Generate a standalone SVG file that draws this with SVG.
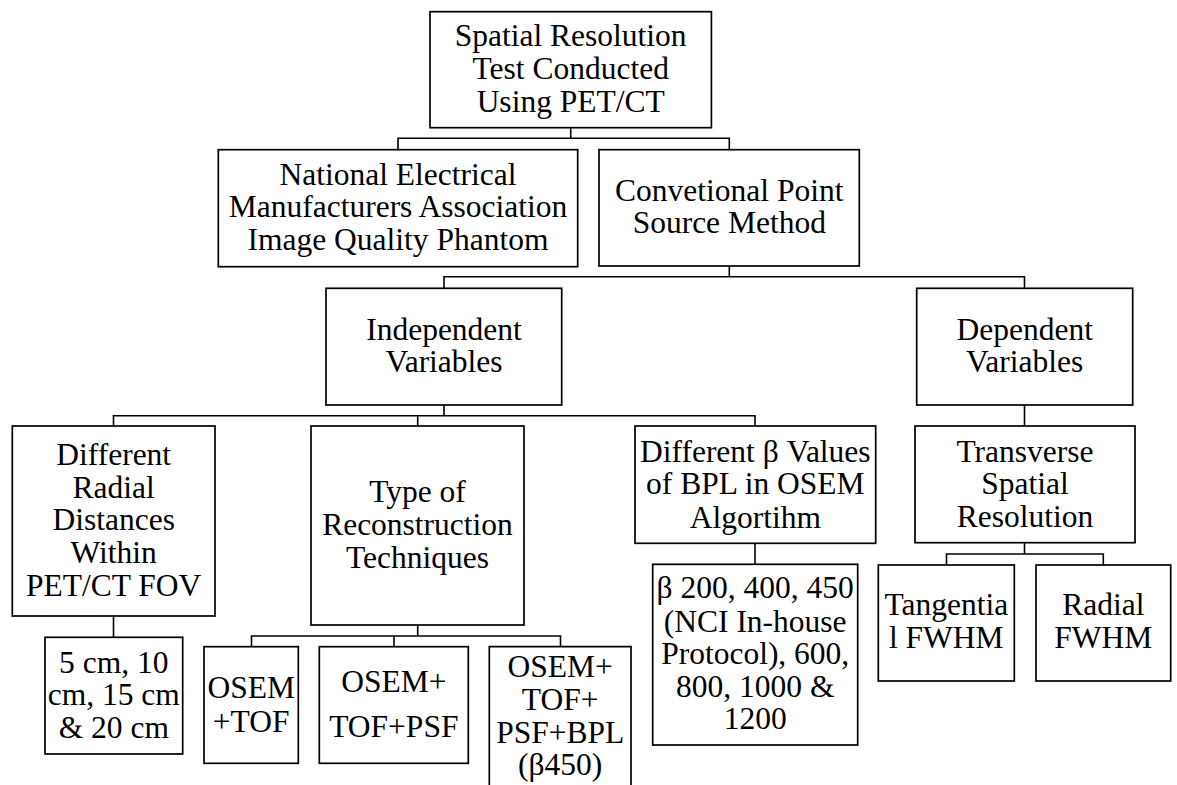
<svg xmlns="http://www.w3.org/2000/svg" width="1177" height="785" viewBox="0 0 1177 785">
<style>
.box{fill:#fff;stroke:#000;stroke-width:1.7}
.ln{fill:none;stroke:#000;stroke-width:1.6}
text{font-family:"Liberation Serif","Times New Roman",serif;font-size:31.5px;fill:#000;text-anchor:middle}
</style>
<rect width="1177" height="785" fill="#fff"/>
<g id="connectors">
<path class="ln" d="M570.7,127.7V138.3M398,149.7V138.3H729.3V149.7"/>
<path class="ln" d="M729.3,266V276.7M444,288.3V276.7H1024.5V288.3"/>
<path class="ln" d="M444,405V415.7M113.5,426V415.7H755V426M417.7,415.7V426"/>
<path class="ln" d="M113.5,616V637.3"/>
<path class="ln" d="M417.7,625V636M251.5,646.7V636H560.5V646.7M394,636V646.7"/>
<path class="ln" d="M755,543.3V564.3"/>
<path class="ln" d="M1024.5,405V426"/>
<path class="ln" d="M1024.5,542.7V554M946.5,565V554H1103.3V565"/>
</g>
<g id="root">
<rect class="box" x="430" y="11.7" width="281.4" height="116"/>
<text x="570.7" y="45.7">Spatial Resolution</text>
<text x="570.7" y="79">Test Conducted</text>
<text x="570.7" y="111.7">Using PET/CT</text>
</g>
<g id="nema">
<rect class="box" x="218.3" y="149.7" width="359.4" height="117"/>
<text x="398" y="185">National Electrical</text>
<text x="398" y="217.3">Manufacturers Association</text>
<text x="398" y="250">Image Quality Phantom</text>
</g>
<g id="conventional">
<rect class="box" x="599" y="149.7" width="260.3" height="116.3"/>
<text x="729.3" y="200.5">Convetional Point</text>
<text x="729.3" y="232.5">Source Method</text>
</g>
<g id="independent">
<rect class="box" x="326" y="288.3" width="235.7" height="116.7"/>
<text x="444" y="340">Independent</text>
<text x="444" y="371.7">Variables</text>
</g>
<g id="dependent">
<rect class="box" x="916.7" y="288.3" width="216" height="116.7"/>
<text x="1024.7" y="339.5">Dependent</text>
<text x="1024.7" y="371.5">Variables</text>
</g>
<g id="radial-distances">
<rect class="box" x="12.3" y="426" width="202.7" height="190"/>
<text x="113.7" y="465">Different</text>
<text x="113.7" y="497.7">Radial</text>
<text x="113.7" y="530">Distances</text>
<text x="113.7" y="563.3">Within</text>
<text x="113.7" y="596">PET/CT FOV</text>
</g>
<g id="reconstruction">
<rect class="box" x="311" y="426" width="213" height="199"/>
<text x="417.5" y="501.7">Type of</text>
<text x="417.5" y="535">Reconstruction</text>
<text x="417.5" y="567.7">Techniques</text>
</g>
<g id="beta-values">
<rect class="box" x="635" y="426" width="240.7" height="117.3"/>
<text x="755.3" y="461.7">Different β Values</text>
<text x="755.3" y="494.3">of BPL in OSEM</text>
<text x="755.3" y="527.5">Algortihm</text>
</g>
<g id="transverse">
<rect class="box" x="915" y="426" width="220" height="116.7"/>
<text x="1025" y="461.7">Transverse</text>
<text x="1025" y="494">Spatial</text>
<text x="1025" y="526.7">Resolution</text>
</g>
<g id="distances-values">
<rect class="box" x="45" y="637.3" width="137.7" height="116.7"/>
<text x="113.8" y="672.7">5 cm, 10</text>
<text x="113.8" y="705">cm, 15 cm</text>
<text x="113.8" y="737.7">&amp; 20 cm</text>
</g>
<g id="osem-tof">
<rect class="box" x="204" y="646.7" width="94.3" height="116.6"/>
<text x="251.2" y="698.3">OSEM</text>
<text x="251.2" y="731.7">+TOF</text>
</g>
<g id="osem-tof-psf">
<rect class="box" x="319.3" y="646.7" width="149" height="116.6"/>
<text x="393.8" y="691.7">OSEM+</text>
<text x="393.8" y="737.3">TOF+PSF</text>
</g>
<g id="osem-tof-psf-bpl">
<path class="box" d="M489.3,786V646.7H631V786"/>
<text x="560.2" y="676.7">OSEM+</text>
<text x="560.2" y="710">TOF+</text>
<text x="560.2" y="743">PSF+BPL</text>
<text x="560.2" y="775">(β450)</text>
</g>
<g id="beta-list">
<rect class="box" x="652.7" y="564.3" width="205" height="180.7"/>
<text x="755.2" y="598.3">β 200, 400, 450</text>
<text x="755.2" y="631.7">(NCI In-house</text>
<text x="755.2" y="664.3">Protocol), 600,</text>
<text x="755.2" y="696.7">800, 1000 &amp;</text>
<text x="755.2" y="729.3">1200</text>
</g>
<g id="tangential">
<rect class="box" x="878.3" y="565" width="136" height="116"/>
<text x="946.3" y="615">Tangentia</text>
<text x="946.3" y="648.3">l FWHM</text>
</g>
<g id="radial-fwhm">
<rect class="box" x="1036" y="565" width="134.7" height="116"/>
<text x="1103.3" y="615">Radial</text>
<text x="1103.3" y="648.3">FWHM</text>
</g>
</svg>
